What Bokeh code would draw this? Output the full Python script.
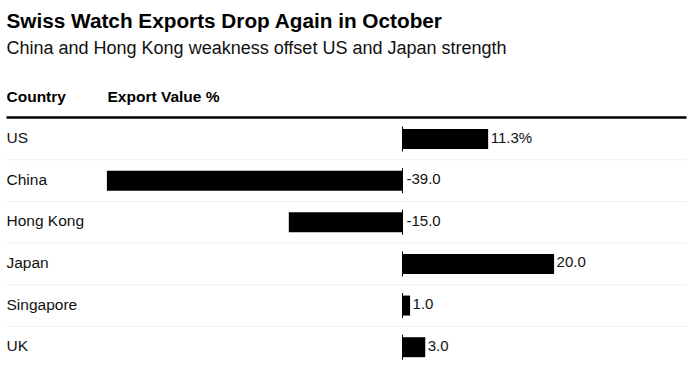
from bokeh.plotting import figure
from bokeh.models import Range1d
from bokeh.core.properties import value
from bokeh.embed import file_html
from bokeh.resources import INLINE

# ---- data ----
title_text = "Swiss Watch Exports Drop Again in October"
subtitle_text = "China and Hong Kong weakness offset US and Japan strength"
col_headers = ["Country", "Export Value %"]
countries = ["US", "China", "Hong Kong", "Japan", "Singapore", "UK"]
changes = [11.3, -39.0, -15.0, 20.0, 1.0, 3.0]
value_labels = ["11.3%", "-39.0", "-15.0", "20.0", "1.0", "3.0"]

# ---- layout constants (pixels) ----
W, H = 695, 366
K = 7.58            # px per percentage point
ZERO_PX = 402       # x pixel of zero
ROW0_PX = 138.5     # y pixel of first row centre
ROW_PX = 41.64      # row spacing
LEFT_PX = 6
SHIFT = 7           # text baseline correction

X0 = -ZERO_PX / K
X1 = (W - ZERO_PX) / K
R_TOP = -ROW0_PX / ROW_PX
R_BOTTOM = (H - ROW0_PX) / ROW_PX


def px(fx):
    return X0 + fx / K


def py(fy):
    return (fy - SHIFT - ROW0_PX) / ROW_PX


FONT = value("Liberation Sans")
TXT = "#000000"

p = figure(width=W, height=H, output_backend="svg", toolbar_location=None,
           x_range=Range1d(X0, X1), y_range=Range1d(R_BOTTOM, R_TOP),
           x_axis_location=None, y_axis_location=None,
           min_border=0, outline_line_color=None,
           background_fill_color="white", border_fill_color="white")
p.grid.visible = False

rows = list(range(len(countries)))

# row separators
p.segment(x0=px(LEFT_PX), x1=px(686), y0=[r + 0.5 for r in rows[:-1]],
          y1=[r + 0.5 for r in rows[:-1]], line_color="#eeeeee", line_width=1)

# header rule
p.segment(x0=[px(LEFT_PX)], x1=[px(686)], y0=[py(117 + SHIFT)],
          y1=[py(117 + SHIFT)], line_color="#000000", line_width=2.5)

# bars
p.hbar(y=rows, left=0, right=changes, height=0.48, fill_color="#000000",
       line_color=None)

# zero ticks
p.segment(x0=0, x1=0, y0=[r - 0.3 for r in rows], y1=[r + 0.3 for r in rows],
          line_color="#000000", line_width=1)

# title / subtitle
p.text(x=[px(LEFT_PX)], y=[py(26.5)], text=[title_text], text_font=FONT,
       text_font_size="20.75px", text_font_style="bold", text_color=TXT,
       text_baseline="alphabetic", text_align="left")
p.text(x=[px(LEFT_PX)], y=[py(54.5)], text=[subtitle_text], text_font=FONT,
       text_font_size="18px", text_color="#111111",
       text_baseline="alphabetic", text_align="left")

# column headers
p.text(x=[px(LEFT_PX), px(107)], y=[py(102.5)] * 2, text=col_headers,
       text_font=FONT, text_font_size="15.5px", text_font_style="bold",
       text_color=TXT, text_baseline="alphabetic", text_align="left")

# country labels
p.text(x=px(LEFT_PX), y=rows, text=countries, text_font=FONT,
       text_font_size="15.5px", text_color="#111111",
       text_baseline="alphabetic", text_align="left", y_offset=5.5 - SHIFT)

# value labels
lab_x = [max(v, 0) for v in changes]
lab_off = [2.5 if v > 0 else 4 for v in changes]
p.text(x=lab_x, y=rows, text=value_labels, x_offset=lab_off, text_font=FONT,
       text_font_size="15px", text_color="#111111",
       text_baseline="alphabetic", text_align="left", y_offset=5.5 - SHIFT)

open("out.html", "w").write(file_html(p, INLINE))
